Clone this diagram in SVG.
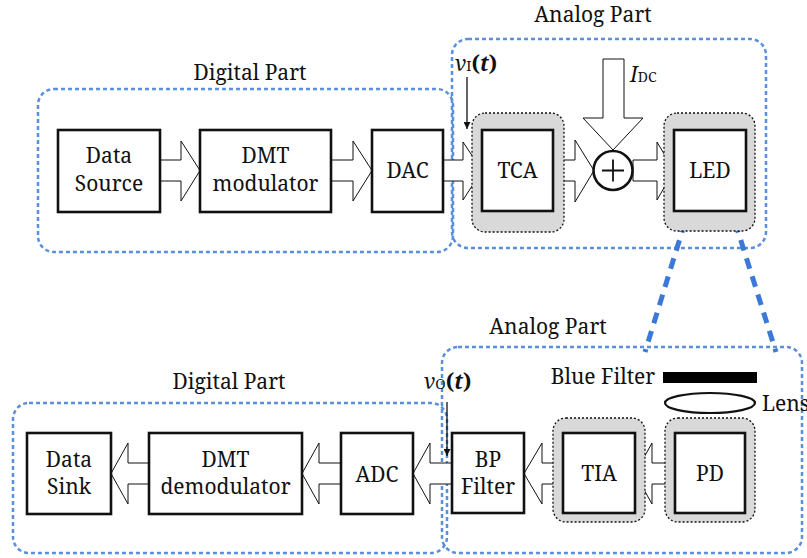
<svg xmlns="http://www.w3.org/2000/svg" width="807" height="558" viewBox="0 0 807 558" font-family="Noto Serif, Liberation Serif, serif">
<style>
text{font-size:21px;fill:#111;text-anchor:middle}
.grp{fill:none;stroke:#5a8fdc;stroke-width:2.5;stroke-dasharray:4 3}
.blk{fill:#fff;stroke:#111;stroke-width:2.6}
.sh{fill:#d9d9d9;stroke:#111;stroke-width:1.3;stroke-dasharray:2 2}
.ba{fill:#fff;stroke:#111;stroke-width:1}
.link{stroke:#3b78d8;stroke-width:5;stroke-dasharray:11 8;fill:none}
.sig{stroke:#111;stroke-width:1.3;fill:none}
</style>
<defs>
<marker id="ah" viewBox="0 0 10 10" refX="10" refY="5" markerWidth="7" markerHeight="7" orient="auto" markerUnits="userSpaceOnUse"><path d="M0,0 L10,5 L0,10 z" fill="#111"/></marker>
</defs>

<!-- group frames -->
<g id="digital-tx">
<rect class="grp" x="38" y="89" width="415" height="163" rx="16"/>
<text x="250" y="80">Digital Part</text>
</g>
<g id="analog-tx">
<rect class="grp" x="452" y="39" width="314" height="209" rx="16"/>
<text x="593" y="22">Analog Part</text>
</g>
<g id="digital-rx">
<rect class="grp" x="13" y="403" width="434" height="150" rx="16"/>
<text x="229" y="389">Digital Part</text>
</g>
<g id="analog-rx">
<rect class="grp" x="442" y="347" width="360" height="206" rx="16"/>
<text x="548" y="334">Analog Part</text>
</g>

<!-- connectors -->
<g id="connectors">
<polygon class="ba" points="160,160 181,160 181,141 200,170.5 181,201 181,181 160,181"/>
<polygon class="ba" points="331,160 353,160 353,141 372,170.5 353,201 353,181 331,181"/>
<polygon class="ba" points="443,160 463,160 463,142 482,170.5 463,200 463,181 443,181"/>
<polygon class="ba" points="553,160 575,160 575,140 594,170.5 575,202 575,181 553,181"/>
<polygon class="ba" points="633,160 657,160 657,142 674,170.5 657,200 657,181 633,181"/>
<polygon class="ba" points="603,59 624,59 624,118 643,118 613,150 583,118 603,118"/>
<polygon class="ba" points="675,463 652,463 652,443 635,473.5 652,504 652,484 675,484"/>
<polygon class="ba" points="563,463 542,463 542,443 524,473.5 542,504 542,484 563,484"/>
<polygon class="ba" points="452,463 430,463 430,443 413,473.5 430,504 430,484 452,484"/>
<polygon class="ba" points="341,463 319,463 319,443 302,473.5 319,504 319,484 341,484"/>
<polygon class="ba" points="149,463 128,463 128,443 111,473.5 128,504 128,484 149,484"/>
<line class="link" x1="685" y1="222" x2="645" y2="352"/>
<line class="link" x1="735" y1="222" x2="776" y2="352"/>
<line class="sig" x1="467" y1="77" x2="467" y2="129" marker-end="url(#ah)"/>
<line class="sig" x1="447" y1="402" x2="447" y2="456" marker-end="url(#ah)"/>
</g>

<!-- labels -->
<g id="vi-label">
<text x="455" y="71" style="text-anchor:start"><tspan font-style="italic">v</tspan><tspan font-size="14">I</tspan><tspan font-weight="bold">(</tspan><tspan font-weight="bold" font-style="italic">t</tspan><tspan font-weight="bold">)</tspan></text>
</g>
<g id="vo-label">
<text x="424" y="389" style="text-anchor:start"><tspan font-style="italic">v</tspan><tspan font-size="14">O</tspan><tspan font-weight="bold">(</tspan><tspan font-weight="bold" font-style="italic">t</tspan><tspan font-weight="bold">)</tspan></text>
</g>
<g id="idc-label">
<text x="630" y="82" style="text-anchor:start"><tspan font-style="italic">I</tspan><tspan font-size="14">DC</tspan></text>
</g>

<!-- nodes -->
<g id="data-source">
<rect class="blk" x="58" y="130" width="102" height="82"/>
<text x="109" y="163">Data</text>
<text x="109" y="191">Source</text>
</g>
<g id="dmt-modulator">
<rect class="blk" x="200" y="130" width="131" height="82"/>
<text x="265.5" y="163">DMT</text>
<text x="265.5" y="191">modulator</text>
</g>
<g id="dac">
<rect class="blk" x="372" y="130" width="71" height="82"/>
<text x="407.5" y="178">DAC</text>
</g>
<g id="tca">
<rect class="sh" x="472" y="113" width="92" height="119" rx="13"/>
<rect class="blk" x="482" y="130" width="71" height="81"/>
<text x="517.5" y="178">TCA</text>
</g>
<g id="adder">
<circle cx="613" cy="170.5" r="19.5" fill="#fff" stroke="#111" stroke-width="2.6"/>
<path d="M602,170.5 H624 M613,159.5 V181.5" stroke="#111" stroke-width="1.8"/>
</g>
<g id="led">
<rect class="sh" x="664" y="113" width="91" height="118" rx="13"/>
<rect class="blk" x="674" y="130" width="72" height="81"/>
<text x="710" y="178">LED</text>
</g>
<g id="blue-filter">
<rect x="663" y="372" width="94" height="11" fill="#000"/>
<text x="603" y="384">Blue Filter</text>
</g>
<g id="lens">
<ellipse cx="710" cy="403" rx="45" ry="10" fill="#fff" stroke="#111" stroke-width="2.2"/>
<text x="762" y="411" style="text-anchor:start">Lens</text>
</g>
<g id="pd">
<rect class="sh" x="665" y="418" width="90" height="104" rx="13"/>
<rect class="blk" x="675" y="433" width="70" height="80"/>
<text x="710" y="481">PD</text>
</g>
<g id="tia">
<rect class="sh" x="553" y="418" width="92" height="104" rx="13"/>
<rect class="blk" x="563" y="433" width="72" height="80"/>
<text x="599" y="481">TIA</text>
</g>
<g id="bp-filter">
<rect class="blk" x="452" y="433" width="72" height="80"/>
<text x="488" y="467">BP</text>
<text x="488" y="494">Filter</text>
</g>
<g id="adc">
<rect class="blk" x="341" y="433" width="72" height="81"/>
<text x="377" y="482">ADC</text>
</g>
<g id="dmt-demodulator">
<rect class="blk" x="149" y="433" width="153" height="81"/>
<text x="225.5" y="467">DMT</text>
<text x="225.5" y="494">demodulator</text>
</g>
<g id="data-sink">
<rect class="blk" x="27" y="433" width="84" height="81"/>
<text x="69" y="467">Data</text>
<text x="69" y="494">Sink</text>
</g>
</svg>
